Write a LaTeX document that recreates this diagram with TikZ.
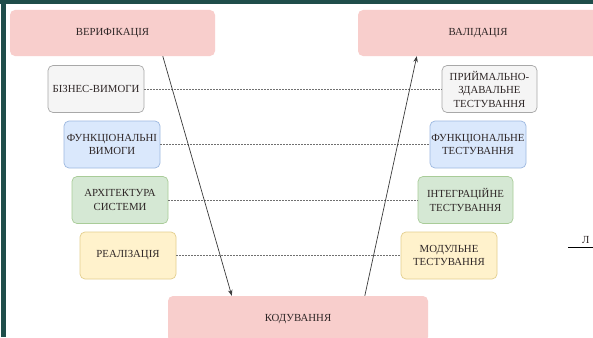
\documentclass[tikz,border=0pt]{standalone}
\usepackage{fontspec}
\setmainfont{Liberation Serif}
\usetikzlibrary{arrows.meta}

\definecolor{frameteal}{HTML}{1F4D4A}
\definecolor{txt}{HTML}{2E2626}
\definecolor{pinkfill}{HTML}{F8CECC}
\definecolor{greyfill}{HTML}{F5F5F5}
\definecolor{greyline}{HTML}{A8A8A8}
\definecolor{bluefill}{HTML}{DAE8FC}
\definecolor{blueline}{HTML}{9DB8E0}
\definecolor{greenfill}{HTML}{D5E8D4}
\definecolor{greenline}{HTML}{A9CC98}
\definecolor{yellowfill}{HTML}{FFF2CC}
\definecolor{yellowline}{HTML}{E3CF8E}
\definecolor{linkgrey}{HTML}{707070}
\definecolor{arrowgrey}{HTML}{3A3A3A}

\tikzset{
  lbl/.style={text=txt, font=\fontsize{10.8}{13.5}\selectfont, align=center, inner sep=0pt},
  phase/.style={lbl, rectangle, rounded corners=5pt, fill=pinkfill, draw=none,
                minimum height=46pt},
  stage/.style={lbl, rectangle, rounded corners=5pt, line width=0.7pt,
                minimum width=96pt, minimum height=47pt},
  greybox/.style={stage, fill=greyfill, draw=greyline},
  bluebox/.style={stage, fill=bluefill, draw=blueline},
  greenbox/.style={stage, fill=greenfill, draw=greenline},
  yellowbox/.style={stage, fill=yellowfill, draw=yellowline},
  pairlink/.style={draw=linkgrey, line width=0.6pt, dash pattern=on 1.6pt off 1.4pt},
  flow/.style={draw=arrowgrey, line width=0.7pt, -{Stealth[length=6pt,width=4.5pt]}}
}

\begin{document}
\begin{tikzpicture}[x=1pt,y=-1pt]
  \useasboundingbox (0,0) rectangle (593,337);
  \clip (0,0) rectangle (593,337);
  \fill[white] (0,0) rectangle (593,337);

  % window frame
  \fill[frameteal] (0,0) rectangle (593,4);
  \fill[frameteal] (1,0) rectangle (6,337);

  % phases
  \node[phase, minimum width=205pt] (ver) at (112.5,33) {ВЕРИФІКАЦІЯ};
  \node[phase, minimum width=240pt] (val) at (478,33) {ВАЛІДАЦІЯ};
  \node[phase, minimum width=260pt] (cod) at (298,319) {КОДУВАННЯ};

  % left branch
  \node[greybox]   (biz)  at (96,89)    {БІЗНЕС-ВИМОГИ};
  \node[bluebox]   (fun)  at (112,144.5) {ФУНКЦІОНАЛЬНІ\\ВИМОГИ};
  \node[greenbox]  (arch) at (120,200)  {АРХІТЕКТУРА\\СИСТЕМИ};
  \node[yellowbox] (impl) at (128,255.5) {РЕАЛІЗАЦІЯ};

  % right branch
  \node[greybox, minimum width=95pt]   (acc)   at (489.5,89)   {ПРИЙМАЛЬНО-\\ЗДАВАЛЬНЕ\\ТЕСТУВАННЯ};
  \node[bluebox]   (ftest) at (478,144.5)  {ФУНКЦІОНАЛЬНЕ\\ТЕСТУВАННЯ};
  \node[greenbox, minimum width=95pt]  (itest) at (465.5,200)  {ІНТЕГРАЦІЙНЕ\\ТЕСТУВАННЯ};
  \node[yellowbox] (mtest) at (449,255.5)  {МОДУЛЬНЕ\\ТЕСТУВАННЯ};

  % paired levels
  \draw[pairlink] (biz.east)  -- (acc.west);
  \draw[pairlink] (fun.east)  -- (ftest.west);
  \draw[pairlink] (arch.east) -- (itest.west);
  \draw[pairlink] (impl.east) -- (mtest.west);

  % V flow
  \draw[flow] ([xshift=153pt]ver.south west) -- ([xshift=64pt]cod.north west);
  \draw[flow] ([xshift=197pt]cod.north west) -- ([xshift=59pt]val.south west);

  % partly visible label at the right edge
  \node[lbl, anchor=base west] (edge) at (582,243) {Л};
  \draw[line width=1.6pt, black] (568,247.5) -- (595,247.5);
\end{tikzpicture}
\end{document}
